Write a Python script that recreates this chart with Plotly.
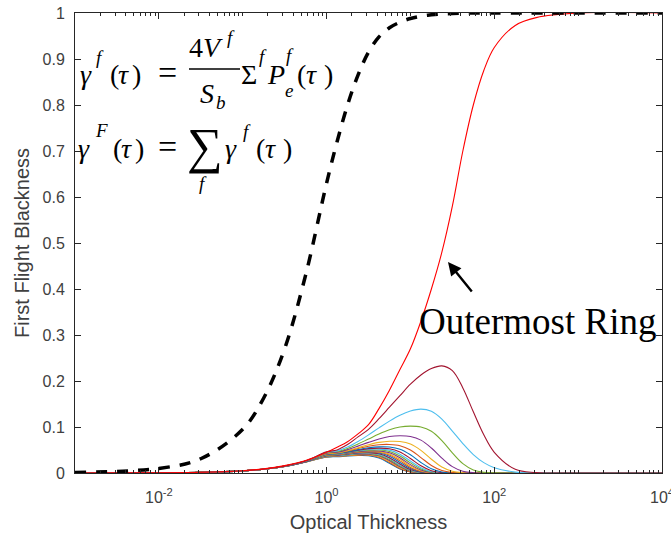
import plotly.graph_objects as go

# ---------------- data ----------------
# optical thickness sample points (log-spaced grid)
tau = [0.001, 0.01, 0.0316, 0.1, 0.178, 0.316, 0.562, 1.0, 1.334, 1.778,
       2.371, 3.162, 4.217, 5.623, 7.499, 10.0, 13.34, 17.78, 23.71, 31.62,
       42.17, 56.23, 74.99, 100.0, 177.8, 316.2, 1000.0, 10000.0]

# total first flight blackness (dashed curve)
total_blackness = [0.001, 0.01, 0.031, 0.095, 0.163, 0.27, 0.43, 0.63, 0.72, 0.80,
                   0.865, 0.915, 0.948, 0.968, 0.98, 0.988, 0.993, 0.996, 0.998, 0.999,
                   1.0, 1.0, 1.0, 1.0, 1.0, 1.0, 1.0, 1.0]

# outermost ring (red curve)
outermost_ring = [0.00005, 0.0005, 0.0015, 0.005, 0.009, 0.016, 0.027, 0.045, 0.056, 0.068,
                  0.085, 0.105, 0.14, 0.18, 0.225, 0.27, 0.33, 0.40, 0.48, 0.58,
                  0.70, 0.80, 0.875, 0.925, 0.973, 0.99, 1.0, 1.0]

# individual rings, innermost (ring_00) to next-to-outermost (ring_20)
low_outer = [0.00005, 0.0005, 0.0015, 0.0048, 0.0085, 0.015, 0.026]
low_mid = [0.00005, 0.0005, 0.0015, 0.0047, 0.0083, 0.0145, 0.025]
low_inner = [0.00005, 0.0005, 0.0014, 0.0045, 0.008, 0.014, 0.024]

ring_20 = low_outer + [0.046, 0.0502, 0.0618, 0.0785, 0.095, 0.118, 0.143, 0.168, 0.193, 0.213,
                       0.227, 0.2328, 0.2225, 0.185, 0.133, 0.083, 0.045, 0.008, 0.001, 0.0, 0.0]
ring_19 = low_outer + [0.045, 0.0481, 0.0564, 0.0685, 0.0828, 0.0981, 0.1128, 0.1255, 0.1346, 0.1389,
                       0.134, 0.117, 0.091, 0.064, 0.040, 0.0225, 0.0114, 0.002, 0.0002, 0.0, 0.0]
ring_18 = low_outer + [0.044, 0.0466, 0.0534, 0.063, 0.0739, 0.0847, 0.0939, 0.1001, 0.102, 0.1001,
                       0.0906, 0.0704, 0.0438, 0.0203, 0.0066, 0.0014, 0.0002, 0.0, 0.0, 0.0, 0.0]
ring_17 = low_outer + [0.043, 0.0452, 0.0508, 0.0584, 0.0666, 0.074, 0.0793, 0.081, 0.0795, 0.0715,
                       0.0544, 0.0324, 0.0139, 0.004, 0.0007, 0.0001, 0.0, 0.0, 0.0, 0.0, 0.0]
ring_16 = low_outer + [0.042, 0.0439, 0.0487, 0.055, 0.0614, 0.0665, 0.069, 0.0684, 0.063, 0.0492,
                       0.030, 0.013, 0.0037, 0.0006, 0.0001, 0.0, 0.0, 0.0, 0.0, 0.0, 0.0]
ring_15 = low_outer + [0.042, 0.0437, 0.0478, 0.0531, 0.058, 0.0614, 0.062, 0.0594, 0.050, 0.0335,
                       0.0164, 0.0053, 0.001, 0.0001, 0.0, 0.0, 0.0, 0.0, 0.0, 0.0, 0.0]
ring_14 = low_mid + [0.041, 0.0425, 0.0463, 0.0508, 0.0548, 0.0569, 0.0565, 0.0517, 0.0396, 0.0229,
                     0.0091, 0.0022, 0.0003, 0.0, 0.0, 0.0, 0.0, 0.0, 0.0, 0.0, 0.0]
ring_13 = low_mid + [0.041, 0.0424, 0.0458, 0.0497, 0.0529, 0.054, 0.0527, 0.0456, 0.0316, 0.0157,
                     0.005, 0.0009, 0.0001, 0.0, 0.0, 0.0, 0.0, 0.0, 0.0, 0.0, 0.0]
ring_12 = low_mid + [0.0405, 0.0419, 0.0451, 0.0487, 0.0514, 0.052, 0.0497, 0.0409, 0.026, 0.0115,
                     0.0031, 0.0005, 0.0, 0.0, 0.0, 0.0, 0.0, 0.0, 0.0, 0.0, 0.0]
ring_11 = low_mid + [0.040, 0.0413, 0.0442, 0.0474, 0.0497, 0.0499, 0.0468, 0.037, 0.022, 0.0088,
                     0.0021, 0.0003, 0.0, 0.0, 0.0, 0.0, 0.0, 0.0, 0.0, 0.0, 0.0]
ring_10 = low_mid + [0.0395, 0.0407, 0.0433, 0.0461, 0.0479, 0.0477, 0.0438, 0.033, 0.0182, 0.0066,
                     0.0014, 0.0002, 0.0, 0.0, 0.0, 0.0, 0.0, 0.0, 0.0, 0.0, 0.0]
ring_09 = low_mid + [0.039, 0.0402, 0.0428, 0.0455, 0.047, 0.0464, 0.0415, 0.0297, 0.0151, 0.0048,
                     0.0009, 0.0001, 0.0, 0.0, 0.0, 0.0, 0.0, 0.0, 0.0, 0.0, 0.0]
ring_08 = low_mid + [0.0385, 0.0397, 0.0423, 0.0448, 0.046, 0.0451, 0.039, 0.0263, 0.0122, 0.0034,
                     0.0005, 0.0, 0.0, 0.0, 0.0, 0.0, 0.0, 0.0, 0.0, 0.0, 0.0]
ring_07 = low_mid + [0.038, 0.0392, 0.0417, 0.0441, 0.045, 0.0435, 0.0363, 0.0229, 0.0096, 0.0024,
                     0.0003, 0.0, 0.0, 0.0, 0.0, 0.0, 0.0, 0.0, 0.0, 0.0, 0.0]
ring_06 = low_inner + [0.0375, 0.0387, 0.0412, 0.0434, 0.044, 0.0418, 0.0334, 0.0196, 0.0074, 0.0016,
                       0.0002, 0.0, 0.0, 0.0, 0.0, 0.0, 0.0, 0.0, 0.0, 0.0, 0.0]
ring_05 = low_inner + [0.037, 0.0381, 0.0405, 0.0426, 0.043, 0.0404, 0.0313, 0.0175, 0.0061, 0.0012,
                       0.0001, 0.0, 0.0, 0.0, 0.0, 0.0, 0.0, 0.0, 0.0, 0.0, 0.0]
ring_04 = low_inner + [0.0365, 0.0376, 0.0398, 0.0417, 0.0419, 0.0389, 0.0292, 0.0155, 0.005, 0.0008,
                       0.0001, 0.0, 0.0, 0.0, 0.0, 0.0, 0.0, 0.0, 0.0, 0.0, 0.0]
ring_03 = low_inner + [0.036, 0.037, 0.0391, 0.0408, 0.0408, 0.0373, 0.0272, 0.0135, 0.004, 0.0006,
                       0.0, 0.0, 0.0, 0.0, 0.0, 0.0, 0.0, 0.0, 0.0, 0.0, 0.0]
ring_02 = low_inner + [0.0355, 0.0365, 0.0384, 0.0399, 0.0397, 0.0358, 0.025, 0.0117, 0.0031, 0.0004,
                       0.0, 0.0, 0.0, 0.0, 0.0, 0.0, 0.0, 0.0, 0.0, 0.0, 0.0]
ring_01 = low_inner + [0.035, 0.0359, 0.0376, 0.0389, 0.0386, 0.0341, 0.0229, 0.010, 0.0024, 0.0003,
                       0.0, 0.0, 0.0, 0.0, 0.0, 0.0, 0.0, 0.0, 0.0, 0.0, 0.0]
ring_00 = low_inner + [0.0345, 0.0353, 0.0369, 0.038, 0.0375, 0.0326, 0.0213, 0.0089, 0.0021, 0.0002,
                       0.0, 0.0, 0.0, 0.0, 0.0, 0.0, 0.0, 0.0, 0.0, 0.0, 0.0]

rings = [ring_00, ring_01, ring_02, ring_03, ring_04, ring_05, ring_06, ring_07, ring_08, ring_09,
         ring_10, ring_11, ring_12, ring_13, ring_14, ring_15, ring_16, ring_17, ring_18, ring_19, ring_20]

x_tick_vals = [0.01, 1, 100, 10000]
x_tick_text = ["10<sup>-2</sup>", "10<sup>0</sup>", "10<sup>2</sup>", "10<sup>4</sup>"]
x_minor_vals = [0.001, 0.002, 0.003, 0.004, 0.005, 0.006, 0.007, 0.008, 0.009,
                0.02, 0.03, 0.04, 0.05, 0.06, 0.07, 0.08, 0.09, 0.1,
                0.2, 0.3, 0.4, 0.5, 0.6, 0.7, 0.8, 0.9,
                2, 3, 4, 5, 6, 7, 8, 9, 10, 20, 30, 40, 50, 60, 70, 80, 90,
                200, 300, 400, 500, 600, 700, 800, 900, 1000,
                2000, 3000, 4000, 5000, 6000, 7000, 8000, 9000]
y_tick_vals = [0, 0.1, 0.2, 0.3, 0.4, 0.5, 0.6, 0.7, 0.8, 0.9, 1.0]
y_tick_text = ["0", "0.1", "0.2", "0.3", "0.4", "0.5", "0.6", "0.7", "0.8", "0.9", "1"]

# ---------------- styling ----------------
color_order = ["#0072BD", "#D95319", "#EDB120", "#7E2F8E", "#77AC30", "#4DBEEE", "#A2142F"]

W, H = 671, 539
ML, MR, MT, MB = 75, 9, 13, 66
PW, PH = W - ML - MR, H - MT - MB


def px(x):
    return (x - ML) / PW


def py(y):
    return (H - MB - y) / PH


fig = go.Figure()
for i, r in enumerate(rings):
    fig.add_trace(go.Scatter(x=tau, y=r, mode="lines", line=dict(color=color_order[i % 7], width=1.1, shape="spline"),
                             showlegend=False, hoverinfo="skip"))
fig.add_trace(go.Scatter(x=tau, y=outermost_ring, mode="lines", line=dict(color="#FF0000", width=1.1, shape="spline"),
                         showlegend=False, hoverinfo="skip"))
fig.add_trace(go.Scatter(x=tau, y=total_blackness, mode="lines",
                         line=dict(color="black", width=3.5, dash="11px,10px", shape="spline"),
                         showlegend=False, hoverinfo="skip"))

axcol = "#262626"
labcol = "#404040"
sans = "Liberation Sans, Arial, sans-serif"
serif = "Liberation Serif, Times New Roman, serif"

fig.update_xaxes(type="log", range=[-3, 4], showline=True, linecolor=axcol, linewidth=1, mirror="allticks",
                 automargin=False,
                 ticks="inside", ticklen=6, tickwidth=1, tickcolor=axcol, tickmode="array",
                 tickvals=x_tick_vals, ticktext=x_tick_text, ticklabeloverflow="allow",
                 tickfont=dict(family=sans, size=16, color=labcol), showgrid=False, zeroline=False,
                 ticklabelstandoff=10,
                 minor=dict(ticks="inside", ticklen=3, tickwidth=1, tickcolor=axcol, tickmode="array",
                            tickvals=x_minor_vals, showgrid=False),
                 title=dict(text="Optical Thickness", font=dict(family=sans, size=20, color=labcol), standoff=9))
fig.update_yaxes(range=[0, 1], showline=True, linecolor=axcol, linewidth=1, mirror="allticks",
                 automargin=False,
                 ticks="inside", ticklen=6, tickwidth=1, tickcolor=axcol, tickmode="array",
                 tickvals=y_tick_vals, ticktext=y_tick_text,
                 tickfont=dict(family=sans, size=16, color=labcol), showgrid=False, zeroline=False,
                 ticklabelstandoff=6,
                 title=dict(text="First Flight Blackness", font=dict(family=sans, size=20, color=labcol), standoff=7))

annots = []


def txt(s, x, y, size=28, anchor="left"):
    annots.append(dict(text=s, x=px(x), y=py(y), xref="paper", yref="paper", xanchor=anchor, yanchor="middle",
                       showarrow=False, font=dict(family=serif, size=size, color="black")))


def paren_tau(x0, xt, x1, y, size=28):
    txt("(", x0, y, size)
    txt("<i>τ</i>", xt, y, size)
    txt(")", x1, y, size)


# equation 1
txt("<i>γ</i>", 78, 74)
txt("<i>f</i>", 94, 57, 19)
paren_tau(108, 116, 130, 74)
txt("=", 167, 72, 34, "center")
txt("4<i>V</i>", 187, 47)
txt("<i>f</i>", 225, 37, 19)
txt("<i>S</i>", 198, 93)
txt("<i>b</i>", 214, 102, 19)
txt("Σ", 239, 74)
txt("<i>f</i>", 257, 56, 19)
txt("<i>P</i>", 265, 74)
txt("<i>e</i>", 283, 90, 19)
txt("<i>f</i>", 284, 55, 19)
paren_tau(295, 304, 322, 74)
# equation 2
txt("<i>γ</i>", 76, 148)
txt("<i>F</i>", 93, 130, 19)
paren_tau(111, 119, 133, 148)
txt("=", 167, 146, 34, "center")
txt("∑", 205, 146, 50, "center")
txt("<i>f</i>", 203, 184, 19, "center")
txt("<i>γ</i>", 223, 148)
txt("<i>f</i>", 241, 131, 19)
paren_tau(254, 263, 281, 148)
# label
txt("Outermost Ring", 417, 321, 37)
annots.append(dict(text="", x=px(448), y=py(262), xref="paper", yref="paper", ax=25, ay=31,
                   showarrow=True, arrowhead=2, arrowsize=1.1, arrowwidth=2.4, arrowcolor="black", standoff=0))

fig.update_layout(width=W, height=H, margin=dict(l=ML, r=MR, t=MT, b=MB, pad=0, autoexpand=False),
                  paper_bgcolor="white", plot_bgcolor="white", annotations=annots,
                  shapes=[dict(type="line", xref="paper", yref="paper", x0=px(189), x1=px(240), y0=py(69), y1=py(69),
                               line=dict(color="black", width=1.5))])

fig.write_html("out.html")
